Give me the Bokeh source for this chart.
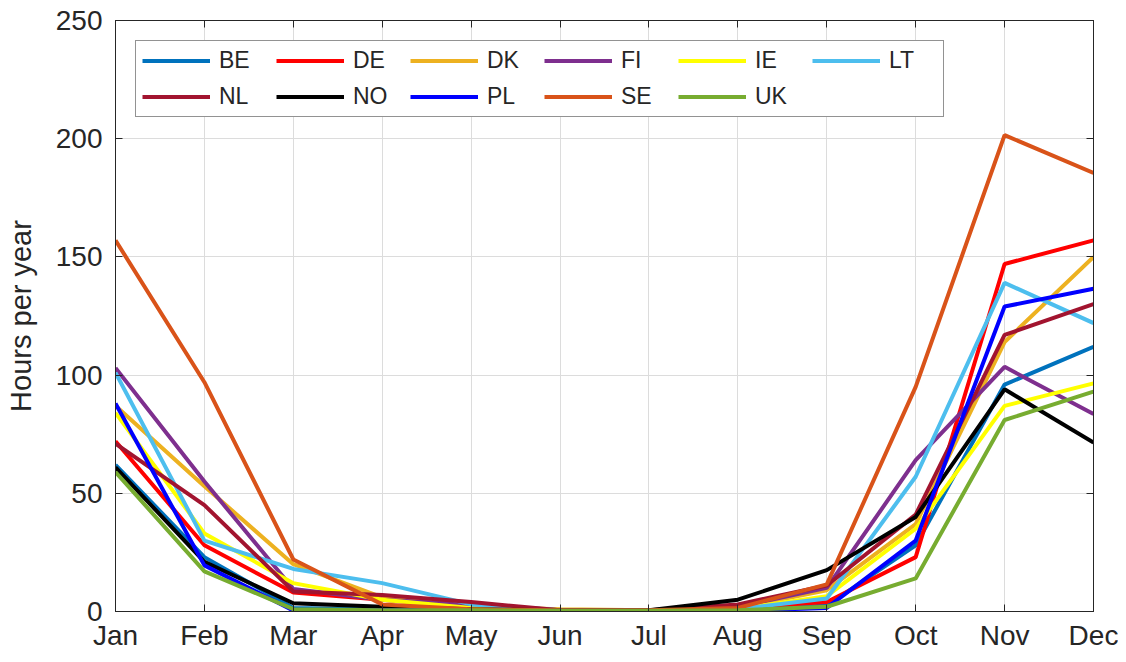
from bokeh.plotting import figure
from bokeh.models import Legend, LegendItem, LinearAxis, FixedTicker, Range1d
from bokeh.embed import file_html
from bokeh.resources import INLINE

months = ["Jan", "Feb", "Mar", "Apr", "May", "Jun", "Jul", "Aug", "Sep", "Oct", "Nov", "Dec"]
countries = ["BE", "DE", "DK", "FI", "IE", "LT", "NL", "NO", "PL", "SE", "UK"]

BE = [62, 23, 1.5, 0.8, 0.5, 0.3, 0.3, 0.5, 2.5, 28, 96, 112]
DE = [72, 28, 8, 5, 2, 0.5, 0.5, 1.5, 4, 23, 147, 157]
DK = [87, 53, 20, 6, 2, 1, 0.5, 1.5, 9, 37, 114, 150]
FI = [103, 55, 9.5, 5, 3, 0.5, 0.5, 2, 10, 64, 103.5, 83.5]
IE = [84, 33, 12, 5, 1.5, 0.5, 0.5, 1, 6.5, 35, 87, 96.5]
LT = [101, 30, 18, 12, 3, 0.5, 0.5, 1, 5.5, 57, 139, 122]
NL = [71, 45, 8.5, 7, 4, 0.5, 0.5, 3, 11, 41, 117, 130]
NO = [61, 21, 3.5, 2, 1, 0.5, 0.5, 5, 17.5, 40, 94, 71.5]
PL = [88, 19.5, 0.4, 0.5, 0.5, 0.3, 0.3, 0.3, 1.5, 30, 129, 136.5]
SE = [157, 97, 22, 3, 1, 0.5, 0.5, 1.5, 11.5, 95, 201.5, 185.5]
UK = [59, 17, 1, 0.5, 0.5, 0.3, 0.3, 0.5, 2, 14, 81, 93]

series = [BE, DE, DK, FI, IE, LT, NL, NO, PL, SE, UK]
colors = ["#0072BD", "#FF0000", "#EDB120", "#7E2F8E", "#FFFF00", "#4DBEEE",
          "#A2142F", "#000000", "#0000FF", "#D95319", "#77AC30"]

y_ticks = [0, 50, 100, 150, 200, 250]

FONT = "Liberation Sans"
TXT = "#262626"

x = list(range(1, len(months) + 1))

p = figure(width=1118, height=654, x_range=Range1d(1, 12), y_range=Range1d(0, 250),
           output_backend="svg", toolbar_location=None,
           min_border_left=115, min_border_right=25, min_border_top=20, min_border_bottom=43)

p.background_fill_color = "white"
p.border_fill_color = "white"
p.outline_line_color = TXT
p.outline_line_width = 1

xt = FixedTicker(ticks=x)
yt = FixedTicker(ticks=y_ticks)

def style_axis(ax, labels=True):
    ax.axis_line_color = TXT
    ax.axis_line_width = 1
    ax.major_tick_line_color = TXT
    ax.major_tick_in = 7
    ax.major_tick_out = 0
    ax.minor_tick_line_color = None
    ax.major_label_text_font = FONT
    ax.major_label_text_color = TXT
    if labels:
        ax.major_label_text_font_size = "28px"
    else:
        ax.major_label_text_font_size = "0px"
        ax.major_label_text_color = None

xa = p.xaxis[0]
xa.ticker = xt
xa.major_label_overrides = {i: m for i, m in zip(x, months)}
style_axis(xa)
xa.major_label_standoff = 8

ya = p.yaxis[0]
ya.ticker = yt
style_axis(ya)
ya.major_label_standoff = 13
ya.axis_label = "Hours per year"
ya.axis_label_text_font = FONT
ya.axis_label_text_font_size = "29px"
ya.axis_label_text_font_style = "normal"
ya.axis_label_text_color = TXT
ya.axis_label_standoff = 16

top = LinearAxis(ticker=xt)
style_axis(top, labels=False)
p.add_layout(top, "above")
right = LinearAxis(ticker=yt)
style_axis(right, labels=False)
p.add_layout(right, "right")

p.xgrid.ticker = xt
p.ygrid.ticker = yt
p.xgrid.grid_line_color = "#dcdcdc"
p.ygrid.grid_line_color = "#dcdcdc"

items = []
for name, vals, col in zip(countries, series, colors):
    r = p.line(x=x, y=vals, line_color=col, line_width=4)
    items.append(LegendItem(label=name, renderers=[r]))

legend = Legend(items=items, orientation="horizontal", ncols=6, location="top_left",
                margin=20, padding=6, spacing=9,
                glyph_width=68, glyph_height=23, label_width=48, label_height=23,
                label_standoff=9,
                label_text_font=FONT, label_text_font_size="23px", label_text_color=TXT,
                border_line_color=TXT, border_line_width=1,
                background_fill_color="white", background_fill_alpha=1)
p.add_layout(legend)

open("out.html", "w").write(file_html(p, INLINE))
